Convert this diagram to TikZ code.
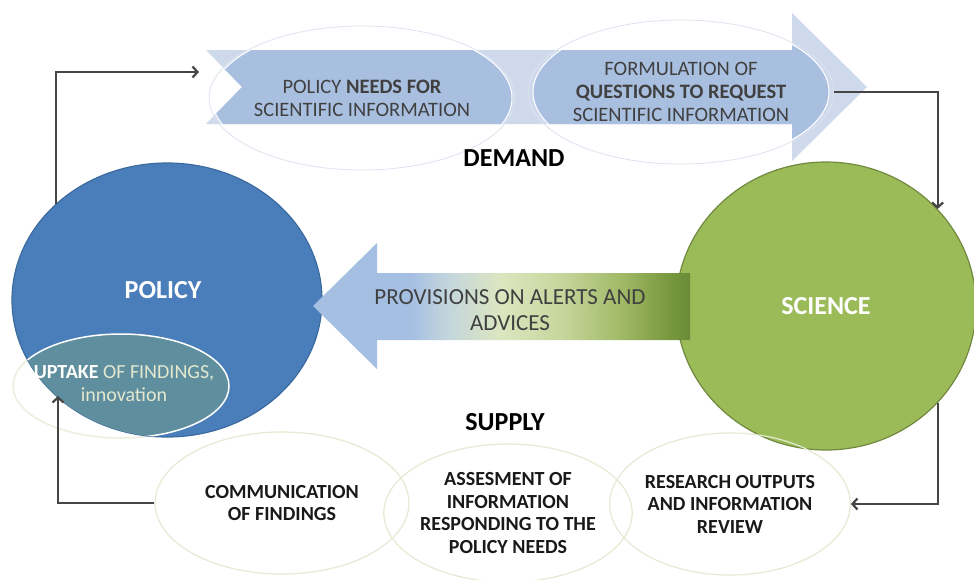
\documentclass[tikz,border=0pt]{standalone}
\usepackage{fontspec}
\setmainfont{Carlito}
\usetikzlibrary{arrows.meta,shapes.geometric}
\definecolor{PolicyBlue}{HTML}{4A7EBB}
\definecolor{PolicyEdge}{HTML}{3B6A9F}
\definecolor{ScienceGreen}{HTML}{9BBB59}
\definecolor{ScienceEdge}{HTML}{71893F}
\definecolor{BandBlue}{HTML}{CFD9EC}
\definecolor{StepBlue}{HTML}{A9BFE0}
\definecolor{Rim}{HTML}{DCE4F0}
\definecolor{Uptake}{HTML}{5F8F9F}
\definecolor{Cream}{HTML}{E3E8CF}
\definecolor{Ink}{HTML}{404040}
\definecolor{Wire}{HTML}{454545}
\definecolor{Halo}{HTML}{E4EBD3}
\definecolor{Pale}{HTML}{ECEFDC}
\definecolor{ProvA}{HTML}{A5BFE3}
\definecolor{ProvB}{HTML}{C4D6DC}
\definecolor{ProvC}{HTML}{DCE6BF}
\definecolor{ProvD}{HTML}{C6D69C}
\definecolor{ProvE}{HTML}{A0B966}
\definecolor{ProvF}{HTML}{79993F}
\definecolor{ProvG}{HTML}{6A8C38}
% left-to-right fade of the provisions arrow
\pgfdeclarehorizontalshading{provfade}{100bp}{color(0bp)=(ProvA); color(25bp)=(ProvA);
  color(38bp)=(ProvA); color(43bp)=(ProvB); color(50bp)=(ProvC); color(58bp)=(ProvD);
  color(66bp)=(ProvE); color(72bp)=(ProvF); color(75bp)=(ProvG); color(100bp)=(ProvG)}

\begin{document}
\begin{tikzpicture}[x=1pt,y=-1pt,
    conn/.style={line width=2.2pt,Wire,-{Straight Barb[length=5pt,width=11pt]}},
    big/.style={font=\fontsize{26}{30}\selectfont\bfseries},
    need/.style={ellipse,draw=Rim,line width=.8pt,minimum width=296pt,minimum height=144pt,
      inner sep=0pt,align=center,text=Ink,font=\fontsize{20.5}{23}\selectfont},
    stage/.style={ellipse,draw=Halo,line width=1.2pt,minimum width=#1,minimum height=142pt,
      inner sep=0pt,align=center,text=black!90,font=\fontsize{20}{22.5}\selectfont\bfseries},
    stage/.default=240pt]
  \fill[white](0,0)rectangle(974,579);
  \useasboundingbox(0,0)rectangle(974,579);

  % demand band
  \fill[BandBlue](206,50)--(792,50)--(792,13)--(867,87)--(792,161)--(792,124)--(206,124)--(242,87)--cycle;
  \begin{scope}
    \clip(206,50)--(792,50)--(792,13)--(867,87)--(792,161)--(792,124)--(206,124)--(242,87)--cycle;
    \fill[StepBlue](362,98)ellipse[x radius=150,y radius=72];
    \fill[StepBlue](681,92)ellipse[x radius=148,y radius=72];
  \end{scope}
  \node[need,minimum width=300pt](needs)at(362,98){POLICY \textbf{NEEDS FOR}\\SCIENTIFIC INFORMATION};
  \node[need](questions)at(681,92){FORMULATION OF\\\textbf{QUESTIONS TO REQUEST}\\SCIENTIFIC INFORMATION};
  \begin{scope}
    \clip(206,50)--(792,50)--(792,13)--(867,87)--(792,161)--(792,124)--(206,124)--(242,87)--cycle;
    \draw[white,line width=1pt](needs.center)ellipse[x radius=150,y radius=72];
    \draw[white,line width=1pt](questions.center)ellipse[x radius=148,y radius=72];
  \end{scope}
  \node[big,text=black](demand)at(514,158){DEMAND};

  % policy side
  \draw[Pale,line width=1.5pt](121,386)ellipse[x radius=108,y radius=52];
  \node[ellipse,fill=PolicyBlue,draw=PolicyEdge,line width=1.2pt,minimum width=310pt,minimum height=274pt](policy)at(167,300){};
  \begin{scope}
    \clip(policy.center)ellipse[x radius=155,y radius=137];
    \fill[Uptake](121,386)ellipse[x radius=108,y radius=52];
    \draw[white,line width=1.5pt](121,386)ellipse[x radius=108,y radius=52];
  \end{scope}
  \node[big,text=white](policylabel)at(163,290){POLICY};
  \node[align=center,text=Cream,font=\fontsize{20}{23}\selectfont](uptake)at(124,384)
    {\textcolor{white!95!Cream}{\bfseries UPTAKE} OF FINDINGS,\\innovation};

  % science side
  \node[ellipse,fill=ScienceGreen,draw=ScienceEdge,line width=1.2pt,minimum width=300pt,minimum height=288pt,
    big,text=white](science)at(826,306){SCIENCE};

  % provisions arrow
  \shade[shading=provfade]
    (690,273)--(377,273)--(377,243)--(313,306)--(377,369)--(377,340)--(690,340)--cycle;
  \node[align=center,text=Ink,font=\fontsize{23}{26}\selectfont](provisions)at(510,310)
    {PROVISIONS ON ALERTS AND\\ADVICES};

  % supply chain
  \node[big,text=black](supply)at(505,422){SUPPLY};
  \node[stage=254pt](communication)at(282,503){COMMUNICATION\\OF FINDINGS};
  \node[stage=236pt,minimum height=138pt](assessment)at(508,513){ASSESMENT OF\\INFORMATION\\RESPONDING TO THE\\POLICY NEEDS};
  \node[stage=240pt](research)at(730,504){RESEARCH OUTPUTS\\AND INFORMATION\\REVIEW};

  % loop connectors
  \coordinate(intake)at(199,72);
  \coordinate(uptakein)at(58,396);
  \draw[conn](policy.139)|-(intake);
  \draw[conn](questions.east)-|(science.41);
  \draw[conn](science.-41)|-(research.east);
  \draw[conn](communication.west)-|(uptakein);
\end{tikzpicture}
\end{document}
